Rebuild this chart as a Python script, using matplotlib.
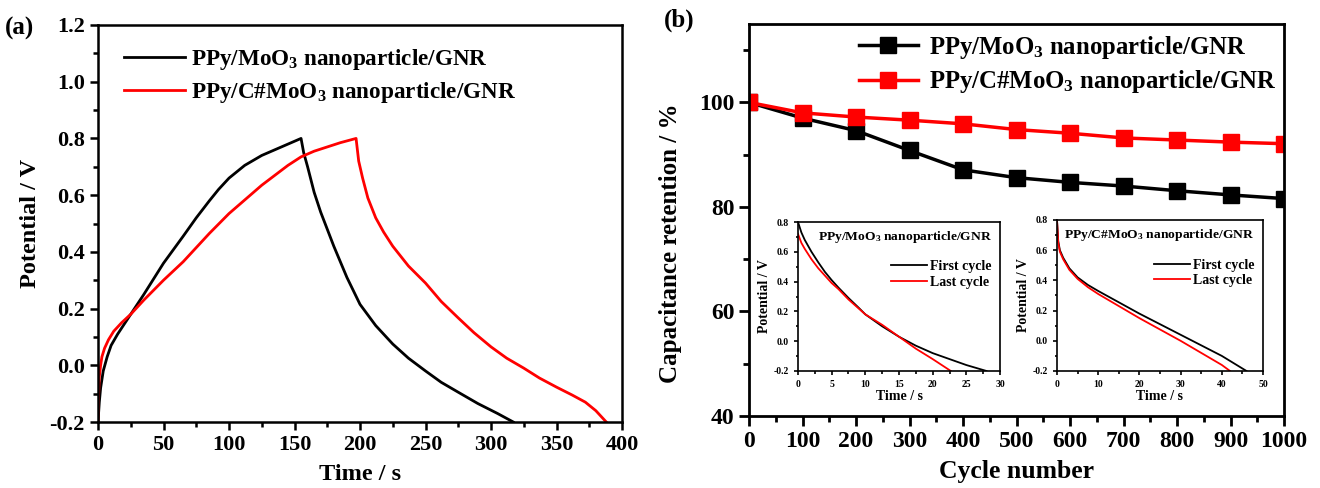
import matplotlib
matplotlib.use("Agg")
import matplotlib.pyplot as plt
from matplotlib.ticker import MultipleLocator, FormatStrFormatter

plt.rcParams["font.family"] = "Liberation Serif"
plt.rcParams["font.weight"] = "bold"
plt.rcParams["axes.labelweight"] = "bold"
plt.rcParams["mathtext.fontset"] = "custom"
plt.rcParams["mathtext.rm"] = "Liberation Serif:bold"
plt.rcParams["mathtext.it"] = "Liberation Serif:bold"
plt.rcParams["mathtext.bf"] = "Liberation Serif:bold"

name1 = "PPy/MoO$_3$ nanoparticle/GNR"
name2 = "PPy/C#MoO$_3$ nanoparticle/GNR"

# (a) charge/discharge curves
t_black = [0, 1, 2, 4, 7, 10, 15, 20, 25, 35, 50, 65, 75, 85, 92, 100, 112, 125, 140, 150, 155,
           157, 160, 165, 170, 175, 180, 190, 200, 212, 225, 237, 250, 262, 275, 290, 305, 317]
v_black = [-0.2, -0.13, -0.08, -0.02, 0.03, 0.07, 0.11, 0.145, 0.18, 0.25, 0.36, 0.455, 0.52, 0.58,
           0.62, 0.66, 0.705, 0.74, 0.77, 0.79, 0.80,
           0.75, 0.70, 0.61, 0.54, 0.48, 0.42, 0.31, 0.215, 0.14, 0.075, 0.025, -0.02, -0.06, -0.095,
           -0.135, -0.17, -0.20]
t_red = [0, 0.5, 1, 2, 3, 5, 8, 12, 18, 25, 35, 50, 65, 75, 85, 100, 115, 125, 135, 145, 155, 165, 175,
         185, 197,
         199, 202, 206, 212, 218, 225, 237, 250, 262, 275, 287, 300, 312, 325, 337, 350, 362, 372,
         380, 385, 388]
v_red = [-0.2, -0.1, -0.04, 0.0, 0.03, 0.06, 0.09, 0.12, 0.15, 0.18, 0.23, 0.30, 0.365, 0.415, 0.465,
         0.535, 0.595, 0.635, 0.67, 0.705, 0.735, 0.755, 0.77, 0.785, 0.80,
         0.72, 0.66, 0.59, 0.52, 0.47, 0.42, 0.35, 0.29, 0.225, 0.167, 0.115, 0.065, 0.025, -0.01,
         -0.045, -0.077, -0.105, -0.13, -0.16, -0.185, -0.20]

# (b) capacitance retention
cycles = [0, 100, 200, 300, 400, 500, 600, 700, 800, 900, 1000]
ret_black = [100, 97.0, 94.6, 90.8, 87.1, 85.6, 84.7, 84.0, 83.1, 82.3, 81.6]
ret_red = [100, 98.0, 97.2, 96.6, 95.9, 94.8, 94.1, 93.2, 92.8, 92.4, 92.1]

# insets: first and last discharge cycle
in1_t_first = [0, 0.5, 1, 2, 3, 4, 5, 6, 7.5, 9, 10, 12.5, 15, 17.5, 20, 22.5, 25, 28]
in1_v_first = [0.8, 0.73, 0.68, 0.6, 0.53, 0.465, 0.41, 0.36, 0.29, 0.225, 0.18, 0.1, 0.03, -0.03,
               -0.08, -0.12, -0.16, -0.2]
in1_t_last = [0, 0.5, 1, 2, 3, 4, 5, 6, 7.5, 9, 10, 12.5, 15, 17.5, 20, 22.7]
in1_v_last = [0.72, 0.66, 0.62, 0.55, 0.49, 0.44, 0.39, 0.35, 0.28, 0.22, 0.18, 0.11, 0.03, -0.05,
              -0.12, -0.2]
in2_t_first = [0, 0.3, 0.7, 1.5, 3, 5, 7.5, 10, 15, 20, 25, 30, 35, 40, 46]
in2_v_first = [0.8, 0.66, 0.6, 0.55, 0.48, 0.42, 0.37, 0.33, 0.255, 0.18, 0.11, 0.04, -0.03, -0.1, -0.2]
in2_t_last = [0, 0.3, 0.7, 1.5, 3, 5, 7.5, 10, 15, 20, 25, 30, 35, 40, 42]
in2_v_last = [0.8, 0.65, 0.59, 0.54, 0.47, 0.41, 0.355, 0.31, 0.23, 0.15, 0.075, 0.0, -0.08, -0.16, -0.2]

fig = plt.figure(figsize=(13.2, 4.88), dpi=100)
W, H = 1320, 488


def box(l, t, r, b):
    return [l / W, 1 - b / H, (r - l) / W, (b - t) / H]


def style(ax, lw=1.8, size=15, maj=6, mino=3.5):
    for s in ax.spines.values():
        s.set_linewidth(lw)
    ax.tick_params(which="both", direction="out", width=lw, labelsize=size, top=False, right=False)
    ax.tick_params(which="major", length=maj)
    ax.tick_params(which="minor", length=mino)


# panel (a)
ax1 = fig.add_axes(box(98, 25, 622, 422))
ax1.plot(t_black, v_black, color="black", lw=2, label=name1)
ax1.plot(t_red, v_red, color="red", lw=2, label=name2)
ax1.set_xlim(0, 400)
ax1.set_ylim(-0.2, 1.2)
ax1.xaxis.set_major_locator(MultipleLocator(50))
ax1.xaxis.set_minor_locator(MultipleLocator(25))
ax1.yaxis.set_major_locator(MultipleLocator(0.2))
ax1.yaxis.set_minor_locator(MultipleLocator(0.1))
ax1.yaxis.set_major_formatter(FormatStrFormatter("%.1f"))
style(ax1, size=16)
ax1.set_xlabel("Time / s", fontsize=17.5, labelpad=6)
ax1.set_ylabel("Potential / V", fontsize=17.5, labelpad=6)
ax1.legend(loc="upper left", bbox_to_anchor=(0.05, 0.945), frameon=False, fontsize=16.7,
           handlelength=2.6, handletextpad=0.26, labelspacing=0.35, borderpad=0, borderaxespad=0)
fig.text(5 / W, 1 - 28 / H, "(a)", fontsize=18, fontweight="bold", va="center")

# panel (b)
ax2 = fig.add_axes(box(749, 24, 1284, 416))
ax2.plot(cycles, ret_black, color="black", lw=2.5, marker="s", ms=11, label=name1)
ax2.plot(cycles, ret_red, color="red", lw=2.5, marker="s", ms=11, label=name2)
ax2.set_xlim(0, 1000)
ax2.set_ylim(40, 115)
ax2.xaxis.set_major_locator(MultipleLocator(100))
ax2.xaxis.set_minor_locator(MultipleLocator(50))
ax2.set_yticks([40, 60, 80, 100])
ax2.yaxis.set_minor_locator(MultipleLocator(10))
style(ax2, lw=2, size=17, maj=7, mino=4)
ax2.set_xlabel("Cycle number", fontsize=18.5, labelpad=6)
ax2.set_ylabel("Capacitance retention / %", fontsize=18)
ax2.yaxis.set_label_coords(-0.125, 0.44)
ax2.legend(loc="upper left", bbox_to_anchor=(0.205, 0.975), frameon=False, fontsize=17.8,
           handlelength=2.4, handletextpad=0.45, labelspacing=0.3, borderpad=0, borderaxespad=0)
fig.text(664 / W, 1 - 20 / H, "(b)", fontsize=18, fontweight="bold", va="center")

# insets
insets = [
    (box(798, 222, 1000, 371), in1_t_first, in1_v_first, in1_t_last, in1_v_last, 30, 5, name1),
    (box(1057, 220, 1263, 371), in2_t_first, in2_v_first, in2_t_last, in2_v_last, 50, 10, name2),
]
for rect, tf, vf, tl, vl, xmax, step, title in insets:
    axi = fig.add_axes(rect)
    axi.plot(tf, vf, color="black", lw=1.3, label="First cycle")
    axi.plot(tl, vl, color="red", lw=1.3, label="Last cycle")
    axi.set_xlim(0, xmax)
    axi.set_ylim(-0.2, 0.8)
    axi.xaxis.set_major_locator(MultipleLocator(step))
    axi.xaxis.set_minor_locator(MultipleLocator(step / 2))
    axi.yaxis.set_major_locator(MultipleLocator(0.2))
    axi.yaxis.set_minor_locator(MultipleLocator(0.1))
    axi.yaxis.set_major_formatter(FormatStrFormatter("%.1f"))
    style(axi, lw=1.2, size=7, maj=3, mino=1.8)
    axi.set_xlabel("Time / s", fontsize=10, labelpad=1)
    axi.set_ylabel("Potential / V", fontsize=10, labelpad=2)
    axi.text(0.96, 0.9, title, transform=axi.transAxes, ha="right", va="center", fontsize=9.7)
    axi.legend(loc="upper right", bbox_to_anchor=(1.0, 0.8), frameon=False, fontsize=10,
               handlelength=2.6, handletextpad=0.2, labelspacing=0.2, borderaxespad=0.2)

fig.savefig("out.png", dpi=100)
